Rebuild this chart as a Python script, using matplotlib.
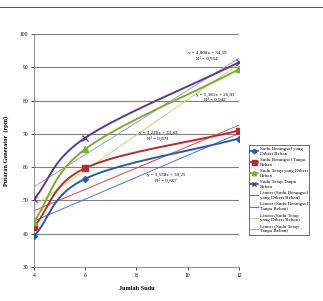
import matplotlib
matplotlib.use('Agg')
import matplotlib.pyplot as plt
import numpy as np

plt.rcParams['font.family'] = ['Liberation Serif', 'DejaVu Serif']

jumlah_sudu = [4, 6, 12]
berangsel_beban = [39.2, 56.5, 68.6]
berangsel_tanpa = [42.1, 59.7, 71.0]
tetap_beban = [43.6, 65.4, 89.4]
tetap_tanpa = [50.3, 68.8, 91.5]

names = ['Sudu Berangsel yang\nDiberi Beban', 'Sudu Berangsel Tanpa\nBeban',
         'Sudu Tetap yang Diberi\nBeban', 'Sudu Tetap Tanpa\nBeban']
trend_names = ['Linear (Sudu Berangsel\nyang Diberi Beban)', 'Linear (Sudu Berangsel\nTanpa Beban)',
               'Linear (Sudu Tetap\nyang Diberi Beban)', 'Linear (Sudu Tetap\nTanpa Beban)']
equations = ['y = 3,538x + 30,25\nR² = 0,867', 'y = 3,220x + 33,83\nR² = 0,871',
             'y = 5,381x + 26,83\nR² = 0,942', 'y = 4,808x + 34,59\nR² = 0,954']
eq_pos = [(9.16, 56.7), (8.84, 69.3), (11.07, 81.0), (10.76, 93.4)]

colors = ['#2a5caa', '#c0282d', '#7ab030', '#5b3a96']
trend_colors = ['#4a78c0', '#d84a4a', '#c8d870', '#a898d0']
markers = ['D', 's', '^', 'x']
msizes = [3, 4.5, 4, 4]


def smooth(x, y, n=40):
    # Catmull-Rom style curve like Excel's smoothed line
    x = np.asarray(x, float)
    y = np.asarray(y, float)
    px = np.r_[2 * x[0] - x[1], x, 2 * x[-1] - x[-2]]
    py = np.r_[2 * y[0] - y[1], y, 2 * y[-1] - y[-2]]
    xs, ys = [], []
    for i in range(1, len(px) - 2):
        t = np.linspace(0, 1, n)
        for p, out in ((px, xs), (py, ys)):
            p0, p1, p2, p3 = p[i - 1], p[i], p[i + 1], p[i + 2]
            out.extend(0.5 * (2 * p1 + (-p0 + p2) * t + (2 * p0 - 5 * p1 + 4 * p2 - p3) * t ** 2
                              + (-p0 + 3 * p1 - 3 * p2 + p3) * t ** 3))
    return np.array(xs), np.array(ys)


fig = plt.figure(figsize=(3.23, 3.01), dpi=100)
ax = fig.add_axes([0.105, 0.113, 0.635, 0.774])

series = [berangsel_beban, berangsel_tanpa, tetap_beban, tetap_tanpa]
handles, labels = [], []
for ys, c, m, ms, nm in zip(series, colors, markers, msizes, names):
    sx, sy = smooth(jumlah_sudu, ys)
    ax.plot(sx, sy, color=c, lw=1.4, zorder=3)
    ax.plot(jumlah_sudu, ys, ls='none', marker=m, ms=ms, color=c, mew=1, zorder=4)
    h, = ax.plot([], [], color=c, lw=1.2, marker=m, ms=ms * 0.8)
    handles.append(h)
    labels.append(nm)

xt = np.array([4, 12])
for ys, c, nm in zip(series, trend_colors, trend_names):
    k, b = np.polyfit(jumlah_sudu, ys, 1)
    h, = ax.plot(xt, k * xt + b, color=c, lw=0.7, zorder=2)
    handles.append(h)
    labels.append(nm)

for eq, (ex, ey) in zip(equations, eq_pos):
    ax.text(ex, ey, eq, fontsize=3.6, ha='center', va='center', linespacing=1.1, zorder=5)

ax.set_xlim(4, 12)
ax.set_ylim(30, 100)
ax.set_xticks([4, 6, 8, 10, 12])
ax.set_yticks(range(30, 101, 10))
ax.tick_params(labelsize=4, length=2, width=0.5, pad=2)
ax.grid(axis='y', color='#808080', lw=0.8)
for s in ['top', 'right']:
    ax.spines[s].set_visible(False)
for s in ['left', 'bottom']:
    ax.spines[s].set_color('#808080')
    ax.spines[s].set_linewidth(0.6)
ax.set_xlabel('Jumlah Sudu', fontsize=4.5, fontweight='bold', labelpad=6)
ax.set_ylabel('Putaran Generator  (rpm)', fontsize=4.5, fontweight='bold', labelpad=8)

leg = fig.legend(handles, labels, loc='upper left', bbox_to_anchor=(0.762, 0.525),
                 fontsize=3.6, frameon=True, fancybox=False, edgecolor='black',
                 borderpad=0.3, labelspacing=0.5, handlelength=1.6, handletextpad=0.3)
leg.get_frame().set_linewidth(0.5)

fig.add_artist(plt.Line2D([0.0, 1.0], [0.977, 0.977], color='#555555', lw=0.7))

fig.savefig('out.png', dpi=100)
